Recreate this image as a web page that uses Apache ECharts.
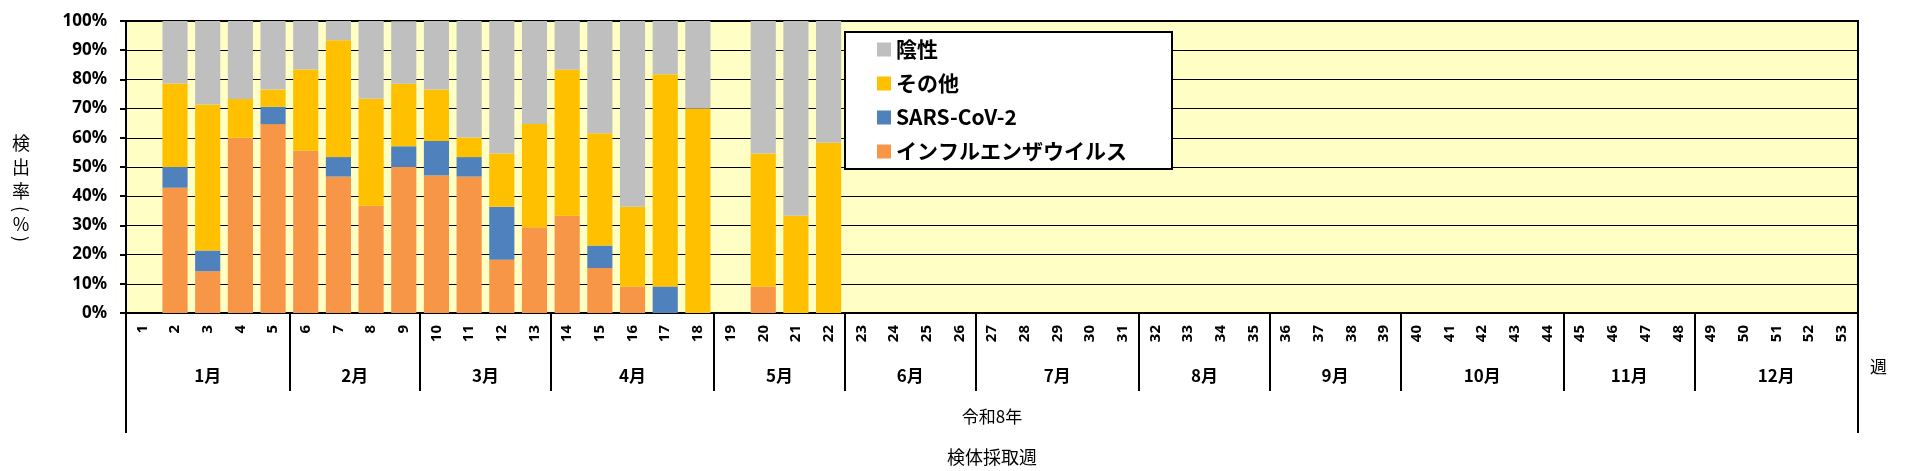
<!DOCTYPE html>
<html>
<head>
<meta charset="utf-8">
<script src="https://cdn.jsdelivr.net/npm/echarts@6/dist/echarts.min.js"></script>
<style>
  html, body { margin: 0; padding: 0; background: #fff; }
  #main { width: 1911px; height: 471px; }
</style>
</head>
<body>
<div id="main"></div>
<script>
// 週ラベル 1..53
var weeks = [];
for (var i = 1; i <= 53; i++) weeks.push(String(i));

// 月と週数
var monthNames = ['1月', '2月', '3月', '4月', '5月', '6月', '7月', '8月', '9月', '10月', '11月', '12月'];
var monthWeeks = [5, 4, 4, 5, 4, 4, 5, 4, 4, 5, 4, 5];
var yearName = '令和8年';

// 検出率(%)  週1〜22
var flu   = [0, 42.9, 14.3, 60, 64.7, 55.6, 46.7, 36.7, 50, 47.1, 46.7, 18.2, 29.4, 33.3, 15.4, 9.1, 0, 0, 0, 9.1, 0, 0];
var sars  = [0, 7.1, 7.1, 0, 5.9, 0, 6.7, 0, 7.1, 11.8, 6.7, 18.2, 0, 0, 7.7, 0, 9.1, 0, 0, 0, 0, 0];
var other = [0, 28.6, 50, 13.3, 5.9, 27.8, 40, 36.7, 21.4, 17.6, 6.7, 18.2, 35.3, 50, 38.5, 27.3, 72.7, 70, 0, 45.5, 33.3, 58.3];
var neg   = [0, 21.4, 28.6, 26.7, 23.5, 16.7, 6.7, 26.7, 21.4, 23.5, 40, 45.5, 35.3, 16.7, 38.5, 63.6, 18.2, 30, 0, 45.5, 66.7, 41.7];

// 月の境界と中央
var bounds = [0], mids = [];
monthWeeks.forEach(function (n) {
    var last = bounds[bounds.length - 1];
    mids.push(last + n / 2);
    bounds.push(last + n);
});

var jp = '"Noto Sans CJK JP", "Noto Sans", sans-serif';
var lineStyle = { color: '#000', width: 2 };

// 縦書きの軸名（括弧は回転）
var yName = ['検', '出', '率', '(', '%', ')'];
var yNameTop = [143, 167, 191, 209, 224, 239];
var yNameText = yName.map(function (ch, k) {
    var paren = (ch === '(' || ch === ')');
    return {
        type: 'text', x: 21, y: yNameTop[k],
        rotation: paren ? -Math.PI / 2 : 0,
        style: { text: ch, fontSize: 18, fontFamily: jp, fill: '#000', align: 'center', verticalAlign: 'middle' }
    };
});

var myChart = echarts.init(document.getElementById('main'));
var option = {
    animation: false,
    textStyle: { fontFamily: jp, color: '#000' },
    grid: {
        left: 126, right: 53, top: 21, bottom: 155,
        show: true,
        backgroundColor: '#FFFFC5',
        borderColor: '#000',
        borderWidth: 2
    },
    legend: {
        orient: 'vertical',
        left: 845, top: 32,
        data: ['陰性', 'その他', 'SARS-CoV-2', 'インフルエンザウイルス'],
        icon: 'rect',
        itemWidth: 14, itemHeight: 14,
        itemGap: 13,
        backgroundColor: '#fff',
        borderColor: '#000',
        borderWidth: 2,
        padding: [7, 45, 7, 32],
        textStyle: { fontSize: 21, fontWeight: 'bold', fontFamily: jp, color: '#000' }
    },
    xAxis: [{
        type: 'category',
        data: weeks,
        position: 'bottom',
        axisLine: { lineStyle: lineStyle },
        axisTick: { interval: 0, length: 37, lineStyle: lineStyle },
        axisLabel: { interval: 0, rotate: 90, margin: 12, fontSize: 15, fontWeight: 'bold', color: '#000', fontFamily: '"Noto Sans", sans-serif' },
        splitLine: { show: false }
    }, {
        type: 'value',
        min: 0, max: 53,
        position: 'bottom',
        axisLine: { show: false },
        splitLine: { show: false },
        axisTick: { customValues: bounds, length: 78, lineStyle: lineStyle },
        axisLabel: {
            customValues: mids,
            margin: 54,
            fontSize: 17, fontWeight: 'bold', color: '#000',
            formatter: function (v) { return monthNames[mids.indexOf(v)]; }
        }
    }, {
        type: 'value',
        min: 0, max: 53,
        position: 'bottom',
        axisLine: { show: false },
        splitLine: { show: false },
        axisTick: { customValues: [0, 53], length: 120, lineStyle: lineStyle },
        axisLabel: {
            customValues: [26.5],
            margin: 95,
            fontSize: 17, color: '#000',
            formatter: function () { return yearName; }
        },
        name: '検体採取週',
        nameLocation: 'middle',
        nameGap: 135,
        nameTextStyle: { fontSize: 18, color: '#000' }
    }],
    yAxis: {
        type: 'value',
        min: 0, max: 100, interval: 10,
        axisLine: { show: true, lineStyle: lineStyle },
        axisTick: { show: true, length: 6, lineStyle: lineStyle },
        axisLabel: { formatter: '{value}%', fontSize: 17, fontWeight: 'bold', color: '#000', margin: 19, fontFamily: '"Noto Sans", sans-serif' },
        splitLine: { lineStyle: { color: '#000', width: 1 } }
    },
    graphic: yNameText.concat([{
        type: 'text',
        left: 1870, top: 358,
        style: { text: '週', fontSize: 17, fontFamily: jp, fill: '#000' }
    }]),
    series: [
        { name: 'インフルエンザウイルス', type: 'bar', stack: 'a', data: flu, itemStyle: { color: '#F79646' }, barCategoryGap: '23%' },
        { name: 'SARS-CoV-2', type: 'bar', stack: 'a', data: sars, itemStyle: { color: '#4F81BD' } },
        { name: 'その他', type: 'bar', stack: 'a', data: other, itemStyle: { color: '#FFC000' } },
        { name: '陰性', type: 'bar', stack: 'a', data: neg, itemStyle: { color: '#BFBFBF' } }
    ]
};
myChart.setOption(option);
</script>
</body>
</html>
